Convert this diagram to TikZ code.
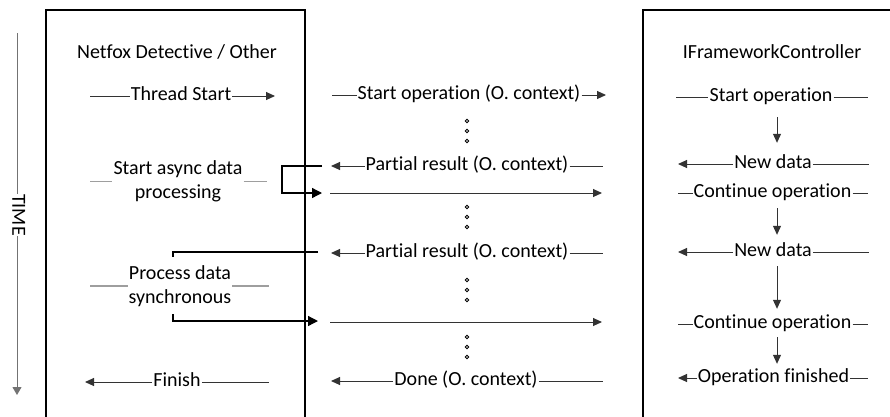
\documentclass[tikz,border=0pt]{standalone}
\usepackage{fontspec}
\setmainfont{Carlito}[Ligatures=NoCommon]
\usetikzlibrary{arrows.meta}

\begin{document}
\begin{tikzpicture}[x=1pt,y=-1pt,
  txt/.style={font=\fontsize{20}{24}\selectfont, inner sep=1pt, text height=13pt, text depth=4pt},
  txttwo/.style={font=\fontsize{20}{24}\selectfont, inner sep=1pt, align=center},
  wire/.style={draw=black!80, line width=1pt},
  tip/.style={-{Triangle[length=9pt,width=8pt]}},
  bigtip/.style={-{Triangle[length=10pt,width=10pt]}},
  deco/.style={draw=black!38, line width=1.1pt},
  frame/.style={draw=black, line width=1.7pt},
  bracket/.style={draw=black, line width=1.3pt},
  pause/.style={circle, draw=black, line width=0.9pt, inner sep=0pt, minimum size=3.6pt}]

\useasboundingbox (0,0) rectangle (890,416);
\clip (0,0) rectangle (890,416);

% the two participant frames (open at the bottom / right)
\draw[frame] (46,430) -- (46,10) -- (305,10) -- (305,430);
\draw[frame] (643,430) -- (643,10) -- (900,10);

% time axis
\node[txt, rotate=-90, inner sep=0pt] (time) at (17,215) {TIME};
\coordinate (ttop) at (17,33);
\coordinate (tbot) at (17,395);
\draw[draw=black!55, line width=1pt] (ttop) -- (time.west);
\draw[draw=black!55, line width=1pt, -{Triangle[length=8pt,width=9pt]}] (time.east) -- (tbot);

% ---------------- left column ----------------
\node[txt] (client) at (177,54) {Netfox Detective / Other};

\node[txt] (thread) at (181,96) {Thread Start};
\coordinate (threadL) at (90,96);
\coordinate (threadR) at (275,96);
\draw[wire] (threadL) -- (thread.west);
\draw[wire,tip] (thread.east) -- (threadR);

\node[txttwo] (async) at (178,181.5) {Start async data\\processing};
\coordinate (asyncL) at (90,181.5);
\coordinate (asyncR) at (267,181.5);
\draw[deco] (asyncL) -- (async.west);
\draw[deco] (async.east) -- (asyncR);

\node[txttwo] (sync) at (180,286) {Process data\\synchronous};
\coordinate (syncL) at (90,286);
\coordinate (syncR) at (269,286);
\draw[deco] (syncL) -- (sync.west);
\draw[deco] (sync.east) -- (syncR);

\node[txt] (finish) at (177,382) {Finish};
\coordinate (finishL) at (85,382);
\coordinate (finishR) at (269,382);
\draw[wire,tip] (finish.west) -- (finishL);
\draw[wire] (finish.east) -- (finishR);

% hand-over brackets across the left frame
\coordinate (ba) at (322,166);
\coordinate (bb) at (282,166);
\coordinate (bc) at (322,193);
\draw[bracket,bigtip] (ba) -- (bb) |- (bc);

\coordinate (sa) at (318,252);
\coordinate (sb) at (173,252);
\coordinate (sc) at (173,257);
\draw[bracket] (sa) -- (sb) -- (sc);
\coordinate (sd) at (173,314);
\coordinate (se) at (318,321);
\draw[bracket,bigtip] (sd) |- (se);

% ---------------- middle column ----------------
\node[txt] (startop) at (469,95) {Start operation (O. context)};
\coordinate (startopL) at (332,95);
\coordinate (startopR) at (606,95);
\draw[wire] (startopL) -- (startop.west);
\draw[wire,tip] (startop.east) -- (startopR);

\node[txt] (part1) at (467,166) {Partial result (O. context)};
\coordinate (part1L) at (331,166);
\coordinate (part1R) at (603,166);
\draw[wire,tip] (part1.west) -- (part1L);
\draw[wire] (part1.east) -- (part1R);

\coordinate (go1L) at (330,193);
\coordinate (go1R) at (602,193);
\draw[wire,tip] (go1L) -- (go1R);

\node[txt] (part2) at (467,253) {Partial result (O. context)};
\coordinate (part2L) at (331,253);
\coordinate (part2R) at (603,253);
\draw[wire,tip] (part2.west) -- (part2L);
\draw[wire] (part2.east) -- (part2R);

\coordinate (go2L) at (330,322);
\coordinate (go2R) at (602,322);
\draw[wire,tip] (go2L) -- (go2R);

\node[txt] (done) at (466,381) {Done (O. context)};
\coordinate (doneL) at (331,381);
\coordinate (doneR) at (603,381);
\draw[wire,tip] (done.west) -- (doneL);
\draw[wire] (done.east) -- (doneR);

% waiting marks
\foreach \y in {121,131,141, 207,217,227, 280,290,300, 337,347,357}
  \node[pause] at (467,\y) {};

% ---------------- right column ----------------
\node[txt] (ctrl) at (772,54) {IFrameworkController};

\node[txt] (rstart) at (771,97) {Start operation};
\coordinate (rstartL) at (676,97);
\coordinate (rstartR) at (868,97);
\draw[wire] (rstartL) -- (rstart.west);
\draw[wire] (rstart.east) -- (rstartR);

\node[txt] (new1) at (773,164) {New data};
\coordinate (new1L) at (678,164);
\coordinate (new1R) at (869,164);
\draw[wire,tip] (new1.west) -- (new1L);
\draw[wire] (new1.east) -- (new1R);

\node[txt] (cont1) at (772.5,193) {Continue operation};
\coordinate (cont1L) at (678,193);
\coordinate (cont1R) at (868,193);
\draw[wire] (cont1L) -- (cont1.west);
\draw[wire] (cont1.east) -- (cont1R);

\node[txt] (new2) at (773,252) {New data};
\coordinate (new2L) at (678,252);
\coordinate (new2R) at (869,252);
\draw[wire,tip] (new2.west) -- (new2L);
\draw[wire] (new2.east) -- (new2R);

\node[txt] (cont2) at (772.5,324) {Continue operation};
\coordinate (cont2L) at (678,324);
\coordinate (cont2R) at (868,324);
\draw[wire] (cont2L) -- (cont2.west);
\draw[wire] (cont2.east) -- (cont2R);

\node[txt] (rfin) at (773.5,378) {Operation finished};
\coordinate (rfinL) at (678,378);
\coordinate (rfinR) at (868,378);
\draw[wire,tip] (rfin.west) -- (rfinL);
\draw[wire] (rfin.east) -- (rfinR);

% internal flow of the controller
\draw[wire,tip,shorten <=10.5pt,shorten >=11.5pt] ([xshift=6pt]rstart.south) -- ([xshift=6pt]rstart.south |- new1.north);
\draw[wire,tip,shorten <=5.5pt,shorten >=7.5pt] ([xshift=4.5pt]cont1.south) -- ([xshift=4.5pt]cont1.south |- new2.north);
\draw[wire,tip,shorten <=4.5pt,shorten >=5.5pt] ([xshift=4pt]new2.south) -- ([xshift=4pt]new2.south |- cont2.north);
\draw[wire,tip,shorten <=3.5pt,shorten >=4.5pt] ([xshift=4.5pt]cont2.south) -- ([xshift=4.5pt]cont2.south |- rfin.north);
\end{tikzpicture}
\end{document}
